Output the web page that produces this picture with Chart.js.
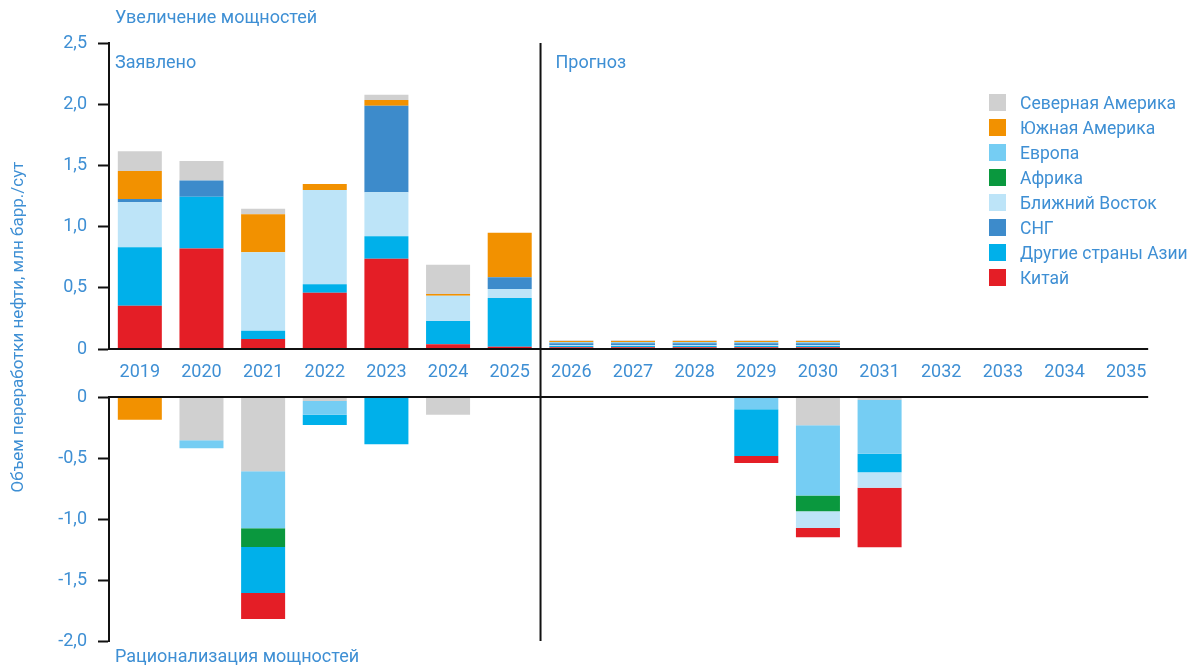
<!DOCTYPE html>
<html>
<head>
<meta charset="utf-8">
<script src="https://cdn.jsdelivr.net/npm/chart.js@4.4.1/dist/chart.umd.min.js"></script>
<style>
  html, body { margin: 0; padding: 0; background: #ffffff; }
  #wrap { position: relative; width: 1191px; height: 667px; overflow: hidden; }
  #legend { position: absolute; left: 989px; top: 90px; font-family: Roboto, sans-serif; font-size: 17.5px; color: #3e8fd4; }
  .li { display: flex; align-items: center; height: 25px; white-space: nowrap; }
  .sw { width: 17px; height: 17px; margin-right: 14px; flex: none; }
</style>
</head>
<body>
<div id="wrap">
  <canvas id="c" width="1191" height="667"></canvas>
  <div id="legend"></div>
</div>
<script>
// ---- categories ----
const years = ['2019','2020','2021','2022','2023','2024','2025','2026','2027','2028','2029','2030','2031','2032','2033','2034','2035'];

// ---- capacity additions (млн барр./сут) ----
const chinaUp        = [0.354, 0.822, 0.082, 0.460, 0.738, 0.038, 0.019, 0.014, 0.014, 0.014, 0.014, 0.014, 0, 0, 0, 0, 0];
const otherAsiaUp    = [0.477, 0.422, 0.068, 0.068, 0.183, 0.191, 0.398, 0.010, 0.010, 0.010, 0.010, 0.010, 0, 0, 0, 0, 0];
const middleEastUp   = [0.367, 0,     0.640, 0.771, 0.359, 0.207, 0.073, 0.006, 0.006, 0.006, 0.006, 0.006, 0, 0, 0, 0, 0];
const cisUp          = [0.027, 0.133, 0,     0,     0.708, 0,     0.096, 0.016, 0.016, 0.016, 0.016, 0.016, 0, 0, 0, 0, 0];
const europeUp       = [0,     0,     0,     0,     0,     0,     0,     0.010, 0.010, 0.010, 0.010, 0.010, 0, 0, 0, 0, 0];
const africaUp       = [0,     0,     0,     0,     0,     0,     0,     0,     0,     0,     0,     0,     0, 0, 0, 0, 0];
const southAmericaUp = [0.229, 0,     0.310, 0.049, 0.046, 0.013, 0.364, 0.010, 0.010, 0.010, 0.010, 0.010, 0, 0, 0, 0, 0];
const northAmericaUp = [0.161, 0.158, 0.046, 0,     0.044, 0.240, 0,     0.006, 0.006, 0.006, 0.006, 0.006, 0, 0, 0, 0, 0];

// ---- capacity rationalisation (млн барр./сут) ----
const northAmericaDown = [0,      -0.355, -0.609, -0.033, 0,      -0.145, 0, 0, 0, 0, 0,      -0.232, -0.025, 0, 0, 0, 0];
const southAmericaDown = [-0.186, 0,      0,      0,      0,      0,      0, 0, 0, 0, 0,      0,      0,      0, 0, 0, 0];
const europeDown       = [0,      -0.065, -0.467, -0.112, 0,      0,      0, 0, 0, 0, -0.100, -0.576, -0.440, 0, 0, 0, 0];
const africaDown       = [0,      0,      -0.153, 0,      0,      0,      0, 0, 0, 0, 0,      -0.129, 0,      0, 0, 0, 0];
const otherAsiaDown    = [0,      0,      -0.378, -0.085, -0.388, 0,      0, 0, 0, 0, -0.384, 0,      -0.151, 0, 0, 0, 0];
const middleEastDown   = [0,      0,      0,      0,      0,      0,      0, 0, 0, 0, 0,      -0.137, -0.128, 0, 0, 0, 0];
const cisDown          = [0,      0,      0,      0,      0,      0,      0, 0, 0, 0, 0,      0,      0,      0, 0, 0, 0];
const chinaDown        = [0,      0,      -0.213, 0,      0,      0,      0, 0, 0, 0, -0.057, -0.076, -0.487, 0, 0, 0, 0];

// ---- tick values ----
const upTicks   = [0, 0.5, 1.0, 1.5, 2.0, 2.5];
const downTicks = [-2.0, -1.5, -1.0, -0.5, 0];

// ---- series names / colours ----
const regionNames  = ['Северная Америка','Южная Америка','Европа','Африка','Ближний Восток','СНГ','Другие страны Азии','Китай'];
const regionColors = ['#d0d0d0','#f29100','#75cdf3','#0a983e','#bde4f8','#3d8bcb','#00b0ea','#e41e26'];

const TXT = '#3e8fd4';
const FONT = 'Roboto, sans-serif';

const colorOf = name => regionColors[regionNames.indexOf(name)];

const upSeries = [
  ['Китай', chinaUp], ['Другие страны Азии', otherAsiaUp], ['Ближний Восток', middleEastUp], ['СНГ', cisUp],
  ['Европа', europeUp], ['Африка', africaUp], ['Южная Америка', southAmericaUp], ['Северная Америка', northAmericaUp]
];
const downSeries = [
  ['Северная Америка', northAmericaDown], ['Южная Америка', southAmericaDown], ['Европа', europeDown], ['Африка', africaDown],
  ['Другие страны Азии', otherAsiaDown], ['Ближний Восток', middleEastDown], ['СНГ', cisDown], ['Китай', chinaDown]
];

const datasets = [];
upSeries.forEach(([n, d]) => datasets.push({ label: n, data: d, yAxisID: 'yTop', backgroundColor: colorOf(n), borderWidth: 0 }));
downSeries.forEach(([n, d]) => datasets.push({ label: n, data: d, yAxisID: 'yBot', backgroundColor: colorOf(n), borderWidth: 0 }));

const fmt = v => (v === 0 ? '0' : v.toFixed(1).replace('.', ','));

const yCommon = {
  type: 'linear', position: 'left', stack: 'v', stacked: true,
  grid: { drawOnChartArea: false, drawTicks: true, tickLength: 11, tickColor: '#111', tickWidth: 2 },
  border: { display: true, color: '#111', width: 2 },
  ticks: { color: TXT, font: { family: FONT, size: 18 }, padding: 11, callback: v => fmt(v) },
  afterFit: s => { s.width = 109; }
};

const deco = {
  id: 'deco',
  afterDraw(chart) {
    const { ctx, chartArea: a, scales } = chart;
    const x = scales.x, yTop = scales.yTop, yBot = scales.yBot;
    const step = x.getPixelForValue(1) - x.getPixelForValue(0);
    const lastRight = x.getPixelForValue(years.length - 1) + step * 0.714 / 2;
    const divX = (x.getPixelForValue(6) + x.getPixelForValue(7)) / 2;
    ctx.save();
    ctx.strokeStyle = '#111';
    ctx.lineWidth = 2;
    ctx.beginPath();
    const y0 = yTop.getPixelForValue(0), y1 = yBot.getPixelForValue(0);
    ctx.moveTo(a.left - 1, y0); ctx.lineTo(lastRight, y0);
    ctx.moveTo(a.left - 1, y1); ctx.lineTo(lastRight, y1);
    ctx.moveTo(divX, a.top); ctx.lineTo(divX, a.bottom);
    ctx.stroke();

    ctx.fillStyle = TXT;
    ctx.font = '18px ' + FONT;
    ctx.textBaseline = 'middle';
    ctx.textAlign = 'left';
    ctx.fillText('Увеличение мощностей', a.left + 6, 18);
    ctx.fillText('Заявлено', a.left + 6, 63);
    ctx.fillText('Прогноз', divX + 15, 63);
    ctx.fillText('Рационализация мощностей', a.left + 6, 657);

    ctx.translate(19, 327);
    ctx.rotate(-Math.PI / 2);
    ctx.textAlign = 'center';
    ctx.font = '17px ' + FONT;
    ctx.fillText('Объем переработки нефти, млн барр./сут', 0, 0);
    ctx.restore();
  }
};

new Chart(document.getElementById('c'), {
  type: 'bar',
  data: { labels: years, datasets },
  options: {
    responsive: false,
    animation: false,
    layout: { padding: { left: 0, top: 43, right: 34, bottom: 26 } },
    plugins: { legend: { display: false }, tooltip: { enabled: false }, title: { display: false } },
    datasets: { bar: { barPercentage: 0.714, categoryPercentage: 1.0 } },
    scales: {
      x: {
        type: 'category', stacked: true, position: { yTop: 0 },
        grid: { display: false, drawTicks: false },
        border: { display: false },
        ticks: { color: TXT, font: { family: FONT, size: 18 }, padding: 13, maxRotation: 0, autoSkip: false }
      },
      // stacked vertical axes are placed top-down in reverse definition order
      yBot: Object.assign({}, yCommon, {
        stackWeight: 244, min: -2, max: 0,
        afterBuildTicks: s => { s.ticks = downTicks.map(v => ({ value: v })); }
      }),
      yGap: {
        type: 'linear', position: 'left', stack: 'v', stackWeight: 48, display: false, min: 0, max: 1
      },
      yTop: Object.assign({}, yCommon, {
        stackWeight: 306, min: 0, max: 2.5,
        afterBuildTicks: s => { s.ticks = upTicks.map(v => ({ value: v })); }
      })
    }
  },
  plugins: [deco]
});

// ---- legend (HTML) ----
const lg = document.getElementById('legend');
regionNames.forEach((n, i) => {
  const row = document.createElement('div');
  row.className = 'li';
  const sw = document.createElement('span');
  sw.className = 'sw';
  sw.style.background = regionColors[i];
  const t = document.createElement('span');
  t.textContent = n;
  row.appendChild(sw); row.appendChild(t);
  lg.appendChild(row);
});
</script>
</body>
</html>
